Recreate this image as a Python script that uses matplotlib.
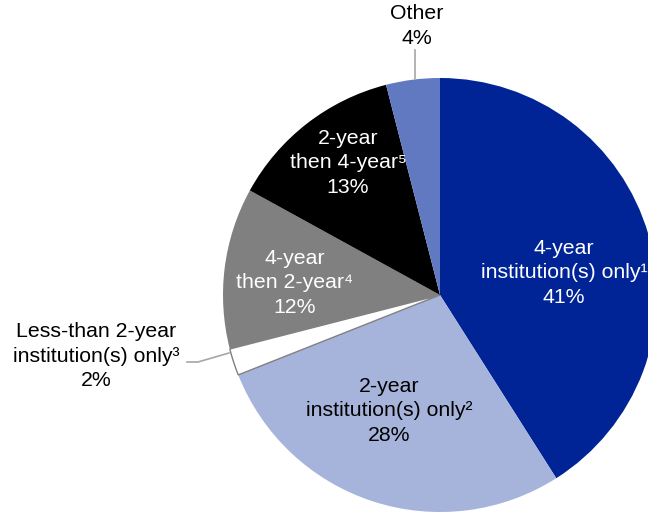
import matplotlib
matplotlib.use("Agg")
import matplotlib.pyplot as plt

plt.rcParams['font.family'] = ['Liberation Sans', 'DejaVu Sans']

# data
labels = ["4-year\ninstitution(s) only\u00b9", "2-year\ninstitution(s) only\u00b2",
          "Less-than 2-year\ninstitution(s) only\u00b3", "4-year\nthen 2-year\u2074",
          "2-year\nthen 4-year\u2075", "Other"]
shares = [41, 28, 2, 12, 13, 4]
colors = ['#002496', '#A6B4DC', '#FFFFFF', '#808080', '#000000', '#6079C1']
text_colors = ['white', 'black', 'black', 'white', 'white', 'black']

# layout (pixel space, y from bottom)
W, H = 648, 512
CX, CY, R = 440, 217, 217
label_pos = [(564, 239), (389, 101), (96, 156), (295, 229), (348, 349), (417, 486)]

fig = plt.figure(figsize=(W / 100, H / 100), dpi=100)
ax = fig.add_axes([0, 0, 1, 1])

wedges, _ = ax.pie(shares, colors=colors, startangle=90, counterclock=False,
                   center=(CX, CY), radius=R, frame=True,
                   wedgeprops=dict(linewidth=0))
ax.set_xlim(0, W)
ax.set_ylim(0, H)
ax.set_aspect('equal')
ax.axis('off')
# small white slice gets a grey outline
wedges[2].set_edgecolor('#808080')
wedges[2].set_linewidth(1)

for lab, val, (x, y), tc in zip(labels, shares, label_pos, text_colors):
    ax.text(x, y, "%s\n%d%%" % (lab, val), ha='center', va='center',
            color=tc, fontsize=15.3, linespacing=1.38)

# leader lines
ax.plot([415, 415], [462, 433], color='#A6A6A6', lw=1.2)
ax.plot([187, 198, 229], [150, 150, 159], color='#A6A6A6', lw=1.2)

fig.savefig('out.png', dpi=100)
